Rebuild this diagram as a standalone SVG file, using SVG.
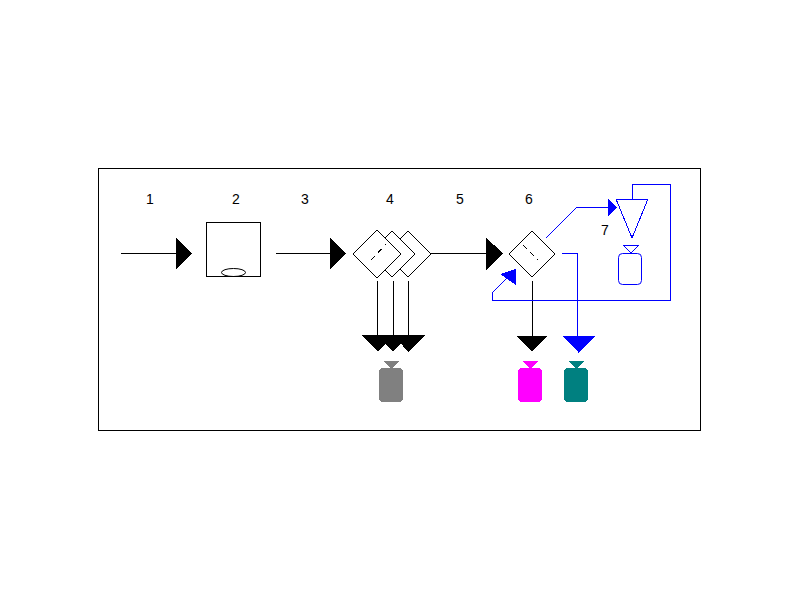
<svg xmlns="http://www.w3.org/2000/svg" width="800" height="600" viewBox="0 0 800 600" shape-rendering="crispEdges">
<style>
text{font-family:"Liberation Sans",Arial,sans-serif;font-size:14px;fill:#000;text-anchor:middle}
.k{fill:none;stroke:#000;stroke-width:1}
.b{fill:none;stroke:#00f;stroke-width:1}
.w{fill:#fff;stroke:#000;stroke-width:1}
.d{fill:none;stroke:#000;stroke-width:1;stroke-dasharray:5 5}
.fk{fill:#000}
.fb{fill:#00f}
.smooth{shape-rendering:auto}
</style>
<rect width="800" height="600" fill="#fff"/>
<rect class="k" x="98.5" y="168.5" width="602" height="262"/>
<g id="labels">
<text x="150" y="204">1</text>
<text x="236" y="204">2</text>
<text x="305" y="204">3</text>
<text x="390" y="204">4</text>
<text x="460" y="204">5</text>
<text x="529" y="204">6</text>
<text x="605" y="235">7</text>
</g>
<g id="connectors">
<path class="k" d="M121 253.5H178M276 253.5H332M431 253.5H488"/>
<path class="fk" d="M176 237.5L192 253.5L176 270ZM330 237.5L346 253.5L330 270ZM486 237.5L503 253.5L486 270Z"/>
<path class="k" d="M377.5 281V337M393.5 281V337M408.5 281V337M532.5 281V337"/>
<path class="fk" d="M362 335H394L378 352ZM377 335H409L393 352ZM393 335H425L408.500 352ZM516 335.500H548L532 352Z"/>
<path class="b" d="M562 253.500H577.500V337"/>
<path class="fb" d="M563 336H595L578.500 352.500Z"/>
<path class="b" d="M546 238L577 207"/>
<path class="b" d="M577 207.500H610"/>
<path class="fb" d="M608 199L617 207.500L608 216Z"/>
<path class="b" d="M632.500 199V184.500H670.500V300.500H492.500V292.500"/>
<path class="b" d="M492 293L507 278"/>
<path class="fb" d="M516 269V285L500 274Z"/>
</g>
<g id="node-2">
<rect class="k" x="206.500" y="222.500" width="54" height="54"/>
<ellipse class="k smooth" cx="233.500" cy="272.500" rx="12" ry="4"/>
</g>
<g id="node-4c"><path class="w" d="M408 231L431 254L408 277L385 254Z"/></g>
<g id="node-4b"><path class="w" d="M392 231L415 254L392 277L369 254Z"/></g>
<g id="node-4a">
<path class="w" d="M377 230L401 254L377 278L353 254Z"/>
<path class="d" d="M371 260L386 244"/>
</g>
<g id="node-6">
<path class="w" d="M532 231L555 254L532 277L509 254Z"/>
<path class="d" d="M523 245L538 260"/>
</g>
<g id="node-7">
<path class="b" d="M616 199H648L632 238Z"/>
<path class="b" d="M623 245H639L631 253Z"/>
<rect class="b smooth" x="618.500" y="253.500" width="23" height="31" rx="4"/>
</g>
<g id="bottle-gray">
<path d="M383 361H400L391.500 369Z" fill="#808080"/>
<rect x="379" y="368" width="24" height="34" rx="4" fill="#808080"/>
</g>
<g id="bottle-magenta">
<path d="M522 361H539L530.500 369Z" fill="#f0f"/>
<rect x="518" y="368" width="24" height="34" rx="4" fill="#f0f"/>
</g>
<g id="bottle-teal">
<path d="M568 361H585L576.500 369Z" fill="#008080"/>
<rect x="564" y="368" width="24" height="34" rx="4" fill="#008080"/>
</g>
</svg>
